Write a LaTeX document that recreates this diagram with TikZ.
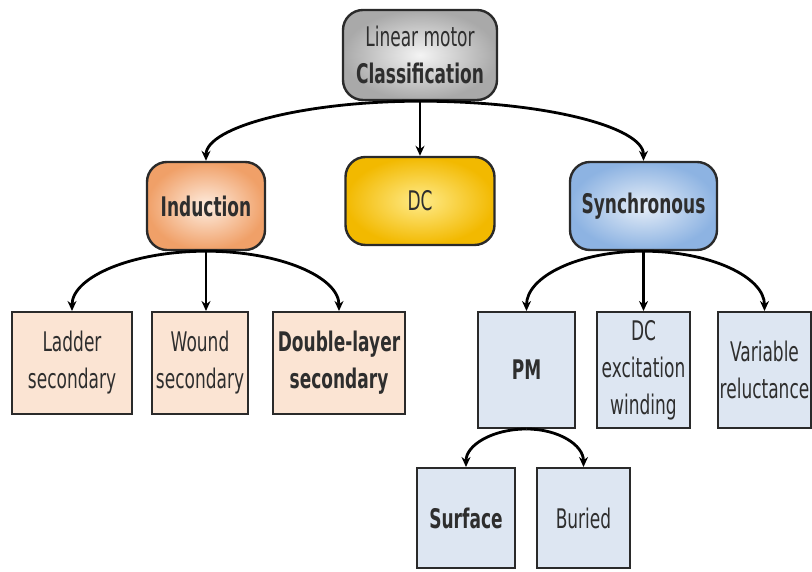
\documentclass[tikz,border=0pt]{standalone}
\usepackage{fontspec}
\setmainfont{DejaVu Sans}[FakeStretch=0.63]
\usetikzlibrary{arrows.meta}
\definecolor{txt}{HTML}{2E2E2E}
\definecolor{edge}{HTML}{2A2A2A}
\definecolor{grayout}{HTML}{A9A9A9}
\definecolor{grayin}{HTML}{F4F4F4}
\definecolor{orgout}{HTML}{F0A068}
\definecolor{orgin}{HTML}{FEEDE0}
\definecolor{ylwout}{HTML}{F2B900}
\definecolor{ylwin}{HTML}{FFEB8A}
\definecolor{bluout}{HTML}{8DB3E2}
\definecolor{bluin}{HTML}{E6EEF8}
\definecolor{peach}{HTML}{FBE4D3}
\definecolor{paleblue}{HTML}{DDE6F2}
\tikzset{
  every node/.style={font=\fontsize{27}{37}\selectfont, text=txt, align=center, inner sep=0pt},
  roundbox/.style={draw=edge, line width=2.4pt, rounded corners=20pt, shading=radial},
  leafbox/.style={draw=edge, line width=2pt},
  arr/.style={-{Stealth[length=10pt,width=9pt]}, line width=2.8pt, black},
}
\begin{document}
\begin{tikzpicture}[x=1pt,y=1pt]
\useasboundingbox (0,0) rectangle (812,572);

% top level
\node[roundbox, inner color=grayin, outer color=grayout, minimum width=154pt, minimum height=90pt]
  (top) at (420,517) {Linear motor\\\textbf{Classification}};

% motor families
\node[roundbox, inner color=orgin, outer color=orgout, minimum width=118pt, minimum height=88pt]
  (ind) at (206,366) {\textbf{Induction}};
\node[roundbox, inner color=ylwin, outer color=ylwout, minimum width=149pt, minimum height=88pt]
  (dc) at (420,371) {DC};
\node[roundbox, inner color=bluin, outer color=bluout, minimum width=147pt, minimum height=88pt]
  (syn) at (643.5,366) {\textbf{Synchronous}};

% induction secondaries
\node[leafbox, fill=peach, minimum width=120pt, minimum height=102pt] (lad) at (72,209) {Ladder\\secondary};
\node[leafbox, fill=peach, minimum width=96pt, minimum height=102pt] (wnd) at (200,209) {Wound\\secondary};
\node[leafbox, fill=peach, minimum width=132pt, minimum height=102pt] (dbl) at (339,209) {\textbf{Double-layer}\\\textbf{secondary}};

% synchronous types
\node[leafbox, fill=paleblue, minimum width=97pt, minimum height=116pt] (pm) at (526.5,202) {\textbf{PM}};
\node[leafbox, fill=paleblue, minimum width=93pt, minimum height=116pt] (dcx) at (643.5,202) {DC\\excitation\\winding};
\node[leafbox, fill=paleblue, minimum width=93pt, minimum height=116pt] (var) at (764.5,202) {Variable\\reluctance};

% PM variants
\node[leafbox, fill=paleblue, minimum width=98pt, minimum height=100pt] (srf) at (466,54) {\textbf{Surface}};
\node[leafbox, fill=paleblue, minimum width=93pt, minimum height=100pt] (bur) at (583.5,54) {Buried};

% connectors
\draw[arr] (top.south) .. controls +(-115,0) and +(0,34) .. (ind.north);
\draw[arr] (top.south) -- (dc.north);
\draw[arr] (top.south) .. controls +(124,0) and +(0,34) .. (syn.north);

\draw[arr] (ind.south) .. controls +(-74,0) and +(0,34) .. (lad.north);
\draw[arr] (ind.south) -- (wnd.north -| ind.south);
\draw[arr] (ind.south) .. controls +(74,0) and +(0,34) .. (dbl.north);

\draw[arr] (syn.south) .. controls +(-66,0) and +(0,34) .. (pm.north);
\draw[arr] (syn.south) -- (dcx.north);
\draw[arr] (syn.south) .. controls +(67,0) and +(0,34) .. (var.north);

\draw[arr] (pm.south) .. controls +(-34,0) and +(0,22) .. (srf.north);
\draw[arr] (pm.south) .. controls +(32,0) and +(0,22) .. (bur.north);
\end{tikzpicture}
\end{document}
